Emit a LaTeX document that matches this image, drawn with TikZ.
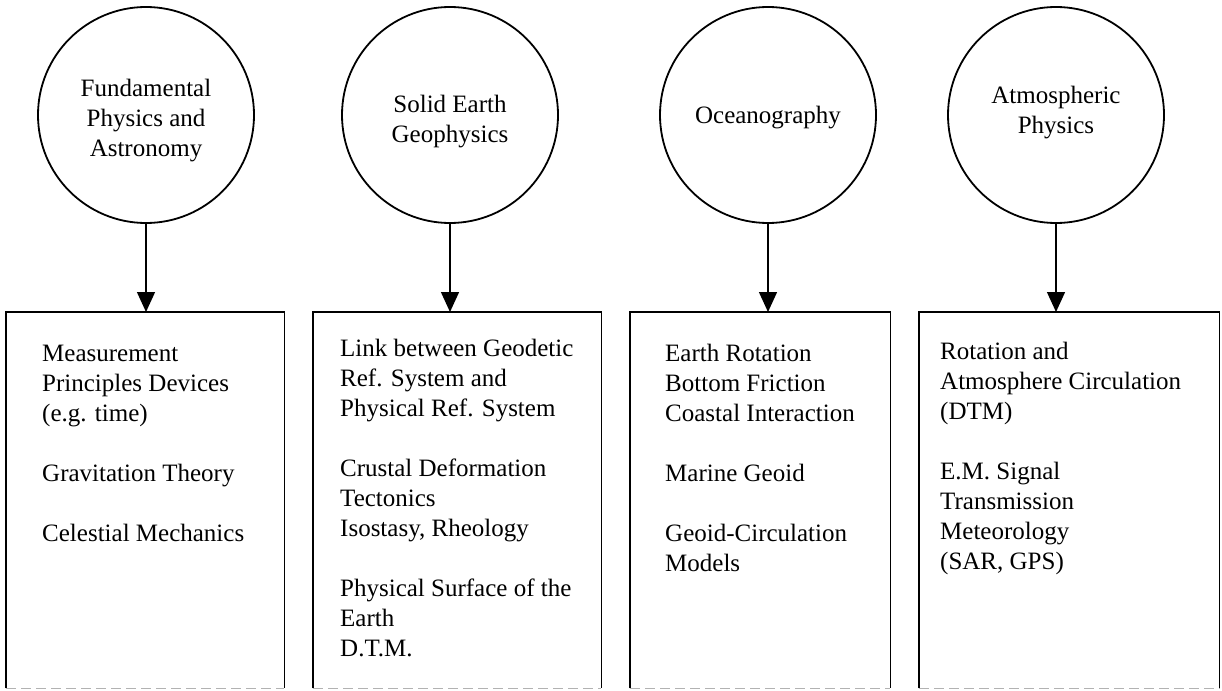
\documentclass[tikz,border=0pt]{standalone}
\usepackage{fontspec}
\setmainfont{Liberation Serif}
\usetikzlibrary{arrows.meta}
\begin{document}
\begin{tikzpicture}[x=1pt,y=-1pt,
  topic/.style={circle, draw, line width=1.8pt, minimum size=216pt, inner sep=0pt},
  topictext/.style={inner sep=0pt, align=center, font=\fontsize{25}{30}\selectfont},
  area/.style={rectangle, draw=none, inner sep=0pt, anchor=north west, minimum height=376pt},
  boxline/.style={line width=1.8pt},
  faintline/.style={line width=0.6pt, black!30, dash pattern=on 10pt off 5pt},
  itemtext/.style={anchor=north west, inner sep=0pt, align=left, font=\fontsize{25}{30}\selectfont},
  link/.style={line width=1.4pt, -{Triangle[width=18pt,length=20pt]}}
]
\useasboundingbox (0,0) rectangle (1222,690);

% circles
\node[topic] (c1) at (146,115) {};
\node[topic] (c2) at (450,115) {};
\node[topic] (c3) at (768,115) {};
\node[topic] (c4) at (1056,115) {};
\node[topictext] (l1) at (146,121) {Fundamental\\Physics and\\Astronomy};
\node[topictext] (l2) at (450,122) {Solid Earth\\Geophysics};
\node[topictext] (l3) at (768,118) {Oceanography};
\node[topictext] (l4) at (1056,113) {Atmospheric\\Physics};

% boxes
\node[area, minimum width=278pt] (b1) at (6,312) {};
\node[area, minimum width=288pt] (b2) at (313,312) {};
\node[area, minimum width=260pt] (b3) at (630,312) {};
\node[area, minimum width=300pt] (b4) at (919,312) {};

\foreach \b in {b1,b2,b3,b4}{
  \draw[boxline] (\b.south west) -- (\b.north west) -- (\b.north east) -- (\b.south east);
  \draw[faintline] (\b.south west) -- (\b.south east);
}

% texts
\node[itemtext] (t1) at (42,340) {\strut Measurement\\Principles Devices\\(e.g. time)\\[30pt]Gravitation Theory\\[30pt]Celestial Mechanics};
\node[itemtext] (t2) at (340,335) {\strut Link between Geodetic\\Ref. System and\\Physical Ref. System\\[30pt]Crustal Deformation\\Tectonics\\Isostasy, Rheology\\[30pt]Physical Surface of the\\Earth\\D.T.M.};
\node[itemtext] (t3) at (665,340) {\strut Earth Rotation\\Bottom Friction\\Coastal Interaction\\[30pt]Marine Geoid\\[30pt]Geoid-Circulation\\Models};
\node[itemtext] (t4) at (940,338) {\strut Rotation and\\Atmosphere Circulation\\(DTM)\\[30pt]E.M. Signal\\Transmission\\Meteorology\\(SAR, GPS)};

% arrows
\draw[link] (c1.south) -- (c1.south |- b1.north);
\draw[link] (c2.south) -- (c2.south |- b2.north);
\draw[link] (c3.south) -- (c3.south |- b3.north);
\draw[link] (c4.south) -- (c4.south |- b4.north);
\end{tikzpicture}
\end{document}
